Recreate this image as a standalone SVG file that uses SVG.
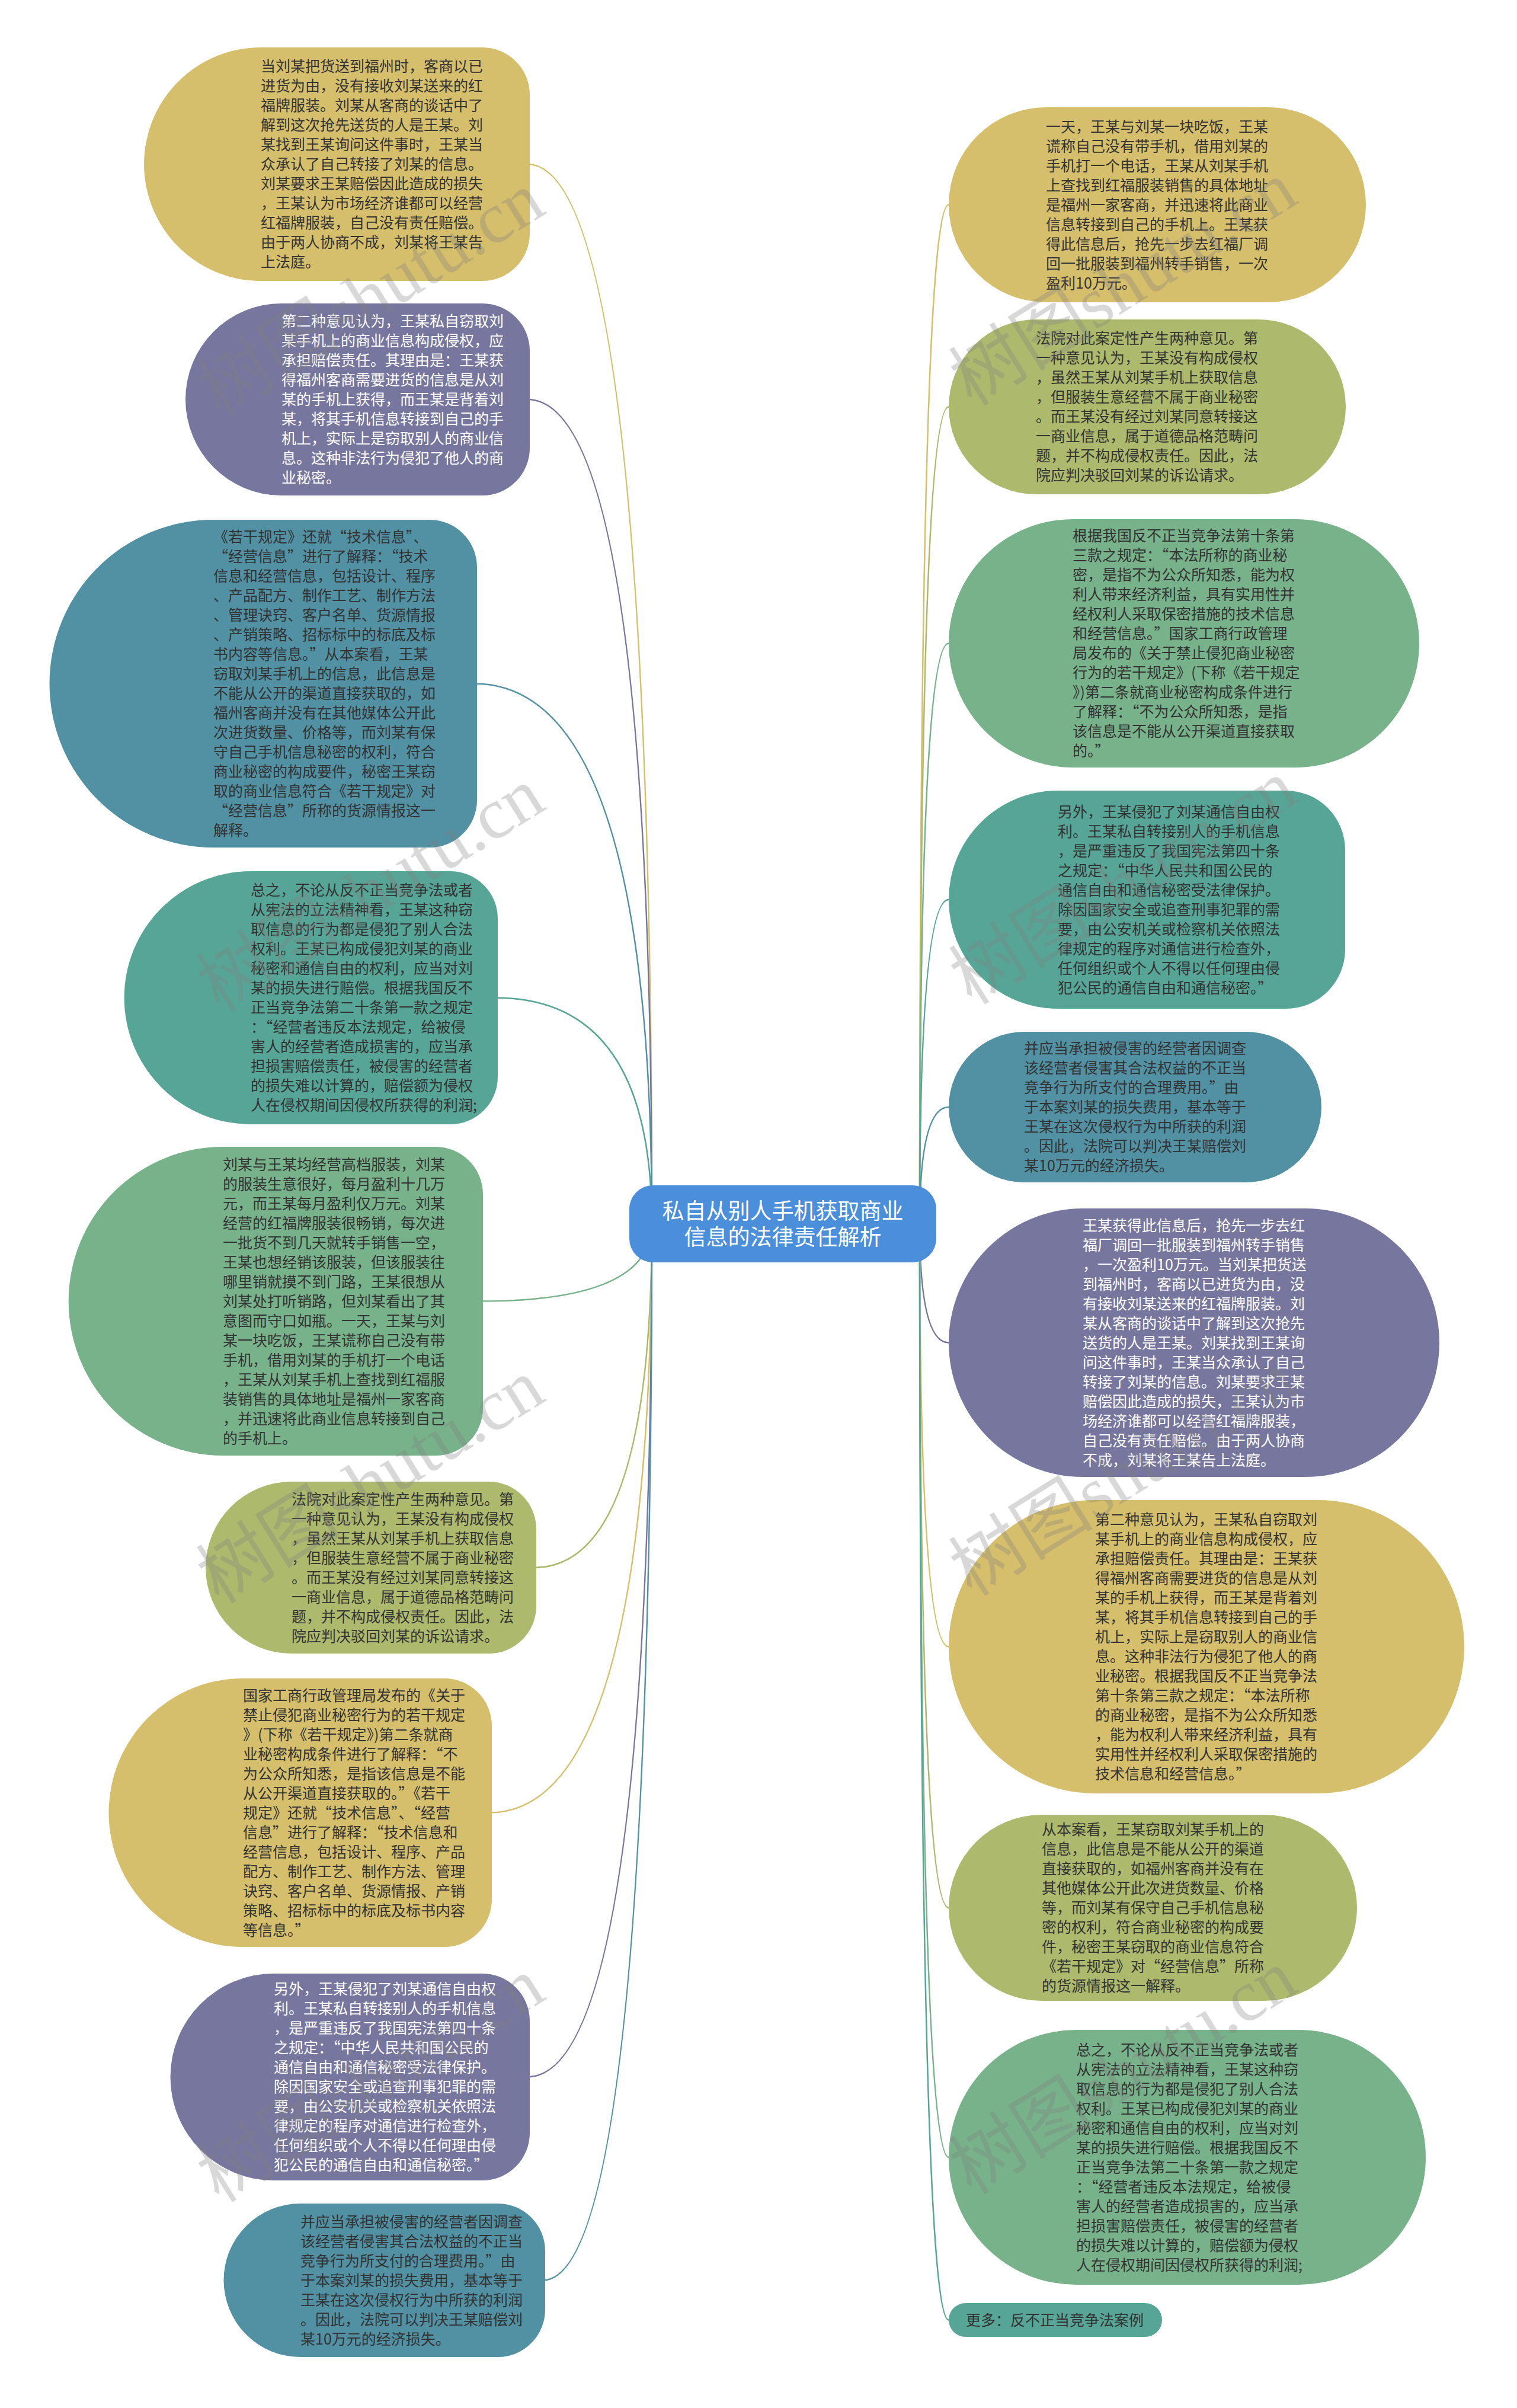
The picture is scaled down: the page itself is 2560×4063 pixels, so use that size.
<svg xmlns="http://www.w3.org/2000/svg" width="2560" height="4063" viewBox="0 0 2560 4063">
<style>
.t{font-family:"Noto Sans CJK SC","Liberation Sans",sans-serif;font-size:25px;fill:#333333}
.w{fill:#ffffff}
.c{fill:none;stroke-width:2.5}
.wm{font-family:"Liberation Serif","Noto Sans CJK SC",serif;font-size:122px;fill:#808080;opacity:0.3}
.root{font-family:"Noto Sans CJK SC","Liberation Sans",sans-serif;font-size:37px;fill:#ffffff}
</style>
<rect x="0" y="0" width="2560" height="4063" fill="#ffffff"/>
<g id="connectors">
<path class="c" stroke="#D5BF6C" d="M1100,2065 Q1100,277 890,277"/>
<path class="c" stroke="#76769E" d="M1100,2065 Q1100,674 890,674"/>
<path class="c" stroke="#5191A3" d="M1100,2065 Q1100,1153.5 800,1153.5"/>
<path class="c" stroke="#57A597" d="M1100,2065 Q1100,1683.5 836,1683.5"/>
<path class="c" stroke="#78B28B" d="M1100,2065 Q1100,2195.5 811,2195.5"/>
<path class="c" stroke="#ADB96D" d="M1100,2065 Q1100,2645 901,2645"/>
<path class="c" stroke="#D5BF6C" d="M1100,2065 Q1100,3058.5 826,3058.5"/>
<path class="c" stroke="#76769E" d="M1100,2065 Q1100,3504.5 890,3504.5"/>
<path class="c" stroke="#5191A3" d="M1100,2065 Q1100,3847.5 916,3847.5"/>
<path class="c" stroke="#D5BF6C" d="M1552,2065 Q1552,345.5 1601,345.5"/>
<path class="c" stroke="#ADB96D" d="M1552,2065 Q1552,686.5 1601,686.5"/>
<path class="c" stroke="#78B28B" d="M1552,2065 Q1552,1085.5 1601,1085.5"/>
<path class="c" stroke="#57A597" d="M1552,2065 Q1552,1518 1601,1518"/>
<path class="c" stroke="#5191A3" d="M1552,2065 Q1552,1868 1601,1868"/>
<path class="c" stroke="#76769E" d="M1552,2065 Q1552,2265.5 1601,2265.5"/>
<path class="c" stroke="#D5BF6C" d="M1552,2065 Q1552,2778.5 1601,2778.5"/>
<path class="c" stroke="#ADB96D" d="M1552,2065 Q1552,3219 1601,3219"/>
<path class="c" stroke="#78B28B" d="M1552,2065 Q1552,3640 1601,3640"/>
<path class="c" stroke="#57A597" d="M1552,2065 Q1552,3914.5 1601,3914.5"/>
</g>
<g id="root">
<rect x="1062" y="2000" width="518" height="130" rx="40" fill="#4B8FDB"/>
<text class="root" text-anchor="middle"><tspan x="1321" y="2057">私自从别人手机获取商业</tspan><tspan x="1321" y="2101">信息的法律责任解析</tspan></text>
</g>
<g id="L1">
<path d="M440,80 H814 A80,80 0 0 1 894,160 V394 A80,80 0 0 1 814,474 H440 A197,197 0 0 1 440,80 Z" fill="#D5BF6C"/>
<text class="t" x="440" y="121"><tspan x="440" dy="0">当刘某把货送到福州时，客商以已</tspan><tspan x="440" dy="33">进货为由，没有接收刘某送来的红</tspan><tspan x="440" dy="33">福牌服装。刘某从客商的谈话中了</tspan><tspan x="440" dy="33">解到这次抢先送货的人是王某。刘</tspan><tspan x="440" dy="33">某找到王某询问这件事时，王某当</tspan><tspan x="440" dy="33">众承认了自己转接了刘某的信息。</tspan><tspan x="440" dy="33">刘某要求王某赔偿因此造成的损失</tspan><tspan x="440" dy="33">，王某认为市场经济谁都可以经营</tspan><tspan x="440" dy="33">红福牌服装，自己没有责任赔偿。</tspan><tspan x="440" dy="33">由于两人协商不成，刘某将王某告</tspan><tspan x="440" dy="33">上法庭。</tspan></text>
</g>
<g id="L2">
<path d="M475,512 H814 A80,80 0 0 1 894,592 V756 A80,80 0 0 1 814,836 H475 A162,162 0 0 1 475,512 Z" fill="#76769E"/>
<text class="t w" x="475" y="551"><tspan x="475" dy="0">第二种意见认为，王某私自窃取刘</tspan><tspan x="475" dy="33">某手机上的商业信息构成侵权，应</tspan><tspan x="475" dy="33">承担赔偿责任。其理由是：王某获</tspan><tspan x="475" dy="33">得福州客商需要进货的信息是从刘</tspan><tspan x="475" dy="33">某的手机上获得，而王某是背着刘</tspan><tspan x="475" dy="33">某，将其手机信息转接到自己的手</tspan><tspan x="475" dy="33">机上，实际上是窃取别人的商业信</tspan><tspan x="475" dy="33">息。这种非法行为侵犯了他人的商</tspan><tspan x="475" dy="33">业秘密。</tspan></text>
</g>
<g id="L3">
<path d="M360,877 H725 A80,80 0 0 1 805,957 V1350 A80,80 0 0 1 725,1430 H360 A276.5,276.5 0 0 1 360,877 Z" fill="#5191A3"/>
<text class="t" x="360" y="915"><tspan x="360" dy="0">《若干规定》还就“技术信息”、</tspan><tspan x="360" dy="33">“经营信息”进行了解释：“技术</tspan><tspan x="360" dy="33">信息和经营信息，包括设计、程序</tspan><tspan x="360" dy="33">、产品配方、制作工艺、制作方法</tspan><tspan x="360" dy="33">、管理诀窍、客户名单、货源情报</tspan><tspan x="360" dy="33">、产销策略、招标标中的标底及标</tspan><tspan x="360" dy="33">书内容等信息。”从本案看，王某</tspan><tspan x="360" dy="33">窃取刘某手机上的信息，此信息是</tspan><tspan x="360" dy="33">不能从公开的渠道直接获取的，如</tspan><tspan x="360" dy="33">福州客商并没有在其他媒体公开此</tspan><tspan x="360" dy="33">次进货数量、价格等，而刘某有保</tspan><tspan x="360" dy="33">守自己手机信息秘密的权利，符合</tspan><tspan x="360" dy="33">商业秘密的构成要件，秘密王某窃</tspan><tspan x="360" dy="33">取的商业信息符合《若干规定》对</tspan><tspan x="360" dy="33">“经营信息”所称的货源情报这一</tspan><tspan x="360" dy="33">解释。</tspan></text>
</g>
<g id="L4">
<path d="M423,1470 H760 A80,80 0 0 1 840,1550 V1817 A80,80 0 0 1 760,1897 H423 A213.5,213.5 0 0 1 423,1470 Z" fill="#57A597"/>
<text class="t" x="423" y="1511"><tspan x="423" dy="0">总之，不论从反不正当竞争法或者</tspan><tspan x="423" dy="33">从宪法的立法精神看，王某这种窃</tspan><tspan x="423" dy="33">取信息的行为都是侵犯了别人合法</tspan><tspan x="423" dy="33">权利。王某已构成侵犯刘某的商业</tspan><tspan x="423" dy="33">秘密和通信自由的权利，应当对刘</tspan><tspan x="423" dy="33">某的损失进行赔偿。根据我国反不</tspan><tspan x="423" dy="33">正当竞争法第二十条第一款之规定</tspan><tspan x="423" dy="33">：“经营者违反本法规定，给被侵</tspan><tspan x="423" dy="33">害人的经营者造成损害的，应当承</tspan><tspan x="423" dy="33">担损害赔偿责任，被侵害的经营者</tspan><tspan x="423" dy="33">的损失难以计算的，赔偿额为侵权</tspan><tspan x="423" dy="33">人在侵权期间因侵权所获得的利润;</tspan></text>
</g>
<g id="L5">
<path d="M376,1935 H735 A80,80 0 0 1 815,2015 V2376 A80,80 0 0 1 735,2456 H376 A260.5,260.5 0 0 1 376,1935 Z" fill="#78B28B"/>
<text class="t" x="376" y="1973.5"><tspan x="376" dy="0">刘某与王某均经营高档服装，刘某</tspan><tspan x="376" dy="33">的服装生意很好，每月盈利十几万</tspan><tspan x="376" dy="33">元，而王某每月盈利仅万元。刘某</tspan><tspan x="376" dy="33">经营的红福牌服装很畅销，每次进</tspan><tspan x="376" dy="33">一批货不到几天就转手销售一空，</tspan><tspan x="376" dy="33">王某也想经销该服装，但该服装往</tspan><tspan x="376" dy="33">哪里销就摸不到门路，王某很想从</tspan><tspan x="376" dy="33">刘某处打听销路，但刘某看出了其</tspan><tspan x="376" dy="33">意图而守口如瓶。一天，王某与刘</tspan><tspan x="376" dy="33">某一块吃饭，王某谎称自己没有带</tspan><tspan x="376" dy="33">手机，借用刘某的手机打一个电话</tspan><tspan x="376" dy="33">，王某从刘某手机上查找到红福服</tspan><tspan x="376" dy="33">装销售的具体地址是福州一家客商</tspan><tspan x="376" dy="33">，并迅速将此商业信息转接到自己</tspan><tspan x="376" dy="33">的手机上。</tspan></text>
</g>
<g id="L6">
<path d="M492,2500 H825 A80,80 0 0 1 905,2580 V2710 A80,80 0 0 1 825,2790 H492 A145,145 0 0 1 492,2500 Z" fill="#ADB96D"/>
<text class="t" x="492" y="2538.5"><tspan x="492" dy="0">法院对此案定性产生两种意见。第</tspan><tspan x="492" dy="33">一种意见认为，王某没有构成侵权</tspan><tspan x="492" dy="33">，虽然王某从刘某手机上获取信息</tspan><tspan x="492" dy="33">，但服装生意经营不属于商业秘密</tspan><tspan x="492" dy="33">。而王某没有经过刘某同意转接这</tspan><tspan x="492" dy="33">一商业信息，属于道德品格范畴问</tspan><tspan x="492" dy="33">题，并不构成侵权责任。因此，法</tspan><tspan x="492" dy="33">院应判决驳回刘某的诉讼请求。</tspan></text>
</g>
<g id="L7">
<path d="M410,2832 H750 A80,80 0 0 1 830,2912 V3205 A80,80 0 0 1 750,3285 H410 A226.5,226.5 0 0 1 410,2832 Z" fill="#D5BF6C"/>
<text class="t" x="410" y="2869.5"><tspan x="410" dy="0">国家工商行政管理局发布的《关于</tspan><tspan x="410" dy="33">禁止侵犯商业秘密行为的若干规定</tspan><tspan x="410" dy="33">》(下称《若干规定》)第二条就商</tspan><tspan x="410" dy="33">业秘密构成条件进行了解释：“不</tspan><tspan x="410" dy="33">为公众所知悉，是指该信息是不能</tspan><tspan x="410" dy="33">从公开渠道直接获取的。”《若干</tspan><tspan x="410" dy="33">规定》还就“技术信息”、“经营</tspan><tspan x="410" dy="33">信息”进行了解释：“技术信息和</tspan><tspan x="410" dy="33">经营信息，包括设计、程序、产品</tspan><tspan x="410" dy="33">配方、制作工艺、制作方法、管理</tspan><tspan x="410" dy="33">诀窍、客户名单、货源情报、产销</tspan><tspan x="410" dy="33">策略、招标标中的标底及标书内容</tspan><tspan x="410" dy="33">等信息。”</tspan></text>
</g>
<g id="L8">
<path d="M462,3330 H814 A80,80 0 0 1 894,3410 V3599 A80,80 0 0 1 814,3679 H462 A174.5,174.5 0 0 1 462,3330 Z" fill="#76769E"/>
<text class="t w" x="462" y="3365"><tspan x="462" dy="0">另外，王某侵犯了刘某通信自由权</tspan><tspan x="462" dy="33">利。王某私自转接别人的手机信息</tspan><tspan x="462" dy="33">，是严重违反了我国宪法第四十条</tspan><tspan x="462" dy="33">之规定：“中华人民共和国公民的</tspan><tspan x="462" dy="33">通信自由和通信秘密受法律保护。</tspan><tspan x="462" dy="33">除因国家安全或追查刑事犯罪的需</tspan><tspan x="462" dy="33">要，由公安机关或检察机关依照法</tspan><tspan x="462" dy="33">律规定的程序对通信进行检查外，</tspan><tspan x="462" dy="33">任何组织或个人不得以任何理由侵</tspan><tspan x="462" dy="33">犯公民的通信自由和通信秘密。”</tspan></text>
</g>
<g id="L9">
<path d="M507,3718 H840 A80,80 0 0 1 920,3798 V3897 A80,80 0 0 1 840,3977 H507 A129.5,129.5 0 0 1 507,3718 Z" fill="#5191A3"/>
<text class="t" x="507" y="3757.5"><tspan x="507" dy="0">并应当承担被侵害的经营者因调查</tspan><tspan x="507" dy="33">该经营者侵害其合法权益的不正当</tspan><tspan x="507" dy="33">竞争行为所支付的合理费用。”由</tspan><tspan x="507" dy="33">于本案刘某的损失费用，基本等于</tspan><tspan x="507" dy="33">王某在这次侵权行为中所获的利润</tspan><tspan x="507" dy="33">。因此，法院可以判决王某赔偿刘</tspan><tspan x="507" dy="33">某10万元的经济损失。</tspan></text>
</g>
<g id="R1">
<rect x="1601" y="181" width="704" height="329" rx="164.5" fill="#D5BF6C"/>
<text class="t" x="1765" y="222.5"><tspan x="1765" dy="0">一天，王某与刘某一块吃饭，王某</tspan><tspan x="1765" dy="33">谎称自己没有带手机，借用刘某的</tspan><tspan x="1765" dy="33">手机打一个电话，王某从刘某手机</tspan><tspan x="1765" dy="33">上查找到红福服装销售的具体地址</tspan><tspan x="1765" dy="33">是福州一家客商，并迅速将此商业</tspan><tspan x="1765" dy="33">信息转接到自己的手机上。王某获</tspan><tspan x="1765" dy="33">得此信息后，抢先一步去红福厂调</tspan><tspan x="1765" dy="33">回一批服装到福州转手销售，一次</tspan><tspan x="1765" dy="33">盈利10万元。</tspan></text>
</g>
<g id="R2">
<rect x="1601" y="539" width="670" height="295" rx="147.5" fill="#ADB96D"/>
<text class="t" x="1748" y="580"><tspan x="1748" dy="0">法院对此案定性产生两种意见。第</tspan><tspan x="1748" dy="33">一种意见认为，王某没有构成侵权</tspan><tspan x="1748" dy="33">，虽然王某从刘某手机上获取信息</tspan><tspan x="1748" dy="33">，但服装生意经营不属于商业秘密</tspan><tspan x="1748" dy="33">。而王某没有经过刘某同意转接这</tspan><tspan x="1748" dy="33">一商业信息，属于道德品格范畴问</tspan><tspan x="1748" dy="33">题，并不构成侵权责任。因此，法</tspan><tspan x="1748" dy="33">院应判决驳回刘某的诉讼请求。</tspan></text>
</g>
<g id="R3">
<rect x="1601" y="876" width="794" height="419" rx="209.5" fill="#78B28B"/>
<text class="t" x="1810" y="913"><tspan x="1810" dy="0">根据我国反不正当竞争法第十条第</tspan><tspan x="1810" dy="33">三款之规定：“本法所称的商业秘</tspan><tspan x="1810" dy="33">密，是指不为公众所知悉，能为权</tspan><tspan x="1810" dy="33">利人带来经济利益，具有实用性并</tspan><tspan x="1810" dy="33">经权利人采取保密措施的技术信息</tspan><tspan x="1810" dy="33">和经营信息。”国家工商行政管理</tspan><tspan x="1810" dy="33">局发布的《关于禁止侵犯商业秘密</tspan><tspan x="1810" dy="33">行为的若干规定》(下称《若干规定</tspan><tspan x="1810" dy="33">》)第二条就商业秘密构成条件进行</tspan><tspan x="1810" dy="33">了解释：“不为公众所知悉，是指</tspan><tspan x="1810" dy="33">该信息是不能从公开渠道直接获取</tspan><tspan x="1810" dy="33">的。”</tspan></text>
</g>
<g id="R4">
<path d="M1785,1334 H2170 A100,100 0 0 1 2270,1434 V1602 A100,100 0 0 1 2170,1702 H1785 A184,184 0 0 1 1785,1334 Z" fill="#57A597"/>
<text class="t" x="1785" y="1378.5"><tspan x="1785" dy="0">另外，王某侵犯了刘某通信自由权</tspan><tspan x="1785" dy="33">利。王某私自转接别人的手机信息</tspan><tspan x="1785" dy="33">，是严重违反了我国宪法第四十条</tspan><tspan x="1785" dy="33">之规定：“中华人民共和国公民的</tspan><tspan x="1785" dy="33">通信自由和通信秘密受法律保护。</tspan><tspan x="1785" dy="33">除因国家安全或追查刑事犯罪的需</tspan><tspan x="1785" dy="33">要，由公安机关或检察机关依照法</tspan><tspan x="1785" dy="33">律规定的程序对通信进行检查外，</tspan><tspan x="1785" dy="33">任何组织或个人不得以任何理由侵</tspan><tspan x="1785" dy="33">犯公民的通信自由和通信秘密。”</tspan></text>
</g>
<g id="R5">
<rect x="1601" y="1741" width="629" height="254" rx="127" fill="#5191A3"/>
<text class="t" x="1728" y="1778"><tspan x="1728" dy="0">并应当承担被侵害的经营者因调查</tspan><tspan x="1728" dy="33">该经营者侵害其合法权益的不正当</tspan><tspan x="1728" dy="33">竞争行为所支付的合理费用。”由</tspan><tspan x="1728" dy="33">于本案刘某的损失费用，基本等于</tspan><tspan x="1728" dy="33">王某在这次侵权行为中所获的利润</tspan><tspan x="1728" dy="33">。因此，法院可以判决王某赔偿刘</tspan><tspan x="1728" dy="33">某10万元的经济损失。</tspan></text>
</g>
<g id="R6">
<rect x="1601" y="2039" width="828" height="453" rx="226.5" fill="#76769E"/>
<text class="t w" x="1827" y="2076.5"><tspan x="1827" dy="0">王某获得此信息后，抢先一步去红</tspan><tspan x="1827" dy="33">福厂调回一批服装到福州转手销售</tspan><tspan x="1827" dy="33">，一次盈利10万元。当刘某把货送</tspan><tspan x="1827" dy="33">到福州时，客商以已进货为由，没</tspan><tspan x="1827" dy="33">有接收刘某送来的红福牌服装。刘</tspan><tspan x="1827" dy="33">某从客商的谈话中了解到这次抢先</tspan><tspan x="1827" dy="33">送货的人是王某。刘某找到王某询</tspan><tspan x="1827" dy="33">问这件事时，王某当众承认了自己</tspan><tspan x="1827" dy="33">转接了刘某的信息。刘某要求王某</tspan><tspan x="1827" dy="33">赔偿因此造成的损失，王某认为市</tspan><tspan x="1827" dy="33">场经济谁都可以经营红福牌服装，</tspan><tspan x="1827" dy="33">自己没有责任赔偿。由于两人协商</tspan><tspan x="1827" dy="33">不成，刘某将王某告上法庭。</tspan></text>
</g>
<g id="R7">
<rect x="1601" y="2531" width="870" height="495" rx="247.5" fill="#D5BF6C"/>
<text class="t" x="1848" y="2573"><tspan x="1848" dy="0">第二种意见认为，王某私自窃取刘</tspan><tspan x="1848" dy="33">某手机上的商业信息构成侵权，应</tspan><tspan x="1848" dy="33">承担赔偿责任。其理由是：王某获</tspan><tspan x="1848" dy="33">得福州客商需要进货的信息是从刘</tspan><tspan x="1848" dy="33">某的手机上获得，而王某是背着刘</tspan><tspan x="1848" dy="33">某，将其手机信息转接到自己的手</tspan><tspan x="1848" dy="33">机上，实际上是窃取别人的商业信</tspan><tspan x="1848" dy="33">息。这种非法行为侵犯了他人的商</tspan><tspan x="1848" dy="33">业秘密。根据我国反不正当竞争法</tspan><tspan x="1848" dy="33">第十条第三款之规定：“本法所称</tspan><tspan x="1848" dy="33">的商业秘密，是指不为公众所知悉</tspan><tspan x="1848" dy="33">，能为权利人带来经济利益，具有</tspan><tspan x="1848" dy="33">实用性并经权利人采取保密措施的</tspan><tspan x="1848" dy="33">技术信息和经营信息。”</tspan></text>
</g>
<g id="R8">
<rect x="1601" y="3062" width="689" height="314" rx="157" fill="#ADB96D"/>
<text class="t" x="1758" y="3096"><tspan x="1758" dy="0">从本案看，王某窃取刘某手机上的</tspan><tspan x="1758" dy="33">信息，此信息是不能从公开的渠道</tspan><tspan x="1758" dy="33">直接获取的，如福州客商并没有在</tspan><tspan x="1758" dy="33">其他媒体公开此次进货数量、价格</tspan><tspan x="1758" dy="33">等，而刘某有保守自己手机信息秘</tspan><tspan x="1758" dy="33">密的权利，符合商业秘密的构成要</tspan><tspan x="1758" dy="33">件，秘密王某窃取的商业信息符合</tspan><tspan x="1758" dy="33">《若干规定》对“经营信息”所称</tspan><tspan x="1758" dy="33">的货源情报这一解释。</tspan></text>
</g>
<g id="R9">
<rect x="1601" y="3425" width="805" height="430" rx="215" fill="#78B28B"/>
<text class="t" x="1816" y="3467.5"><tspan x="1816" dy="0">总之，不论从反不正当竞争法或者</tspan><tspan x="1816" dy="33">从宪法的立法精神看，王某这种窃</tspan><tspan x="1816" dy="33">取信息的行为都是侵犯了别人合法</tspan><tspan x="1816" dy="33">权利。王某已构成侵犯刘某的商业</tspan><tspan x="1816" dy="33">秘密和通信自由的权利，应当对刘</tspan><tspan x="1816" dy="33">某的损失进行赔偿。根据我国反不</tspan><tspan x="1816" dy="33">正当竞争法第二十条第一款之规定</tspan><tspan x="1816" dy="33">：“经营者违反本法规定，给被侵</tspan><tspan x="1816" dy="33">害人的经营者造成损害的，应当承</tspan><tspan x="1816" dy="33">担损害赔偿责任，被侵害的经营者</tspan><tspan x="1816" dy="33">的损失难以计算的，赔偿额为侵权</tspan><tspan x="1816" dy="33">人在侵权期间因侵权所获得的利润;</tspan></text>
</g>
<g id="R10">
<rect x="1601" y="3886" width="360" height="57" rx="28.5" fill="#57A597"/>
<text class="t" x="1630" y="3923.5">更多：反不正当竞争法案例</text>
</g>
<g id="watermarks">
<text class="wm" transform="translate(370,705) rotate(-32)">树图shutu.cn</text>
<text class="wm" transform="translate(1640,687) rotate(-32)">树图shutu.cn</text>
<text class="wm" transform="translate(370,1710) rotate(-32)">树图shutu.cn</text>
<text class="wm" transform="translate(1640,1697) rotate(-32)">树图shutu.cn</text>
<text class="wm" transform="translate(370,2708) rotate(-32)">树图shutu.cn</text>
<text class="wm" transform="translate(1640,2695) rotate(-32)">树图shutu.cn</text>
<text class="wm" transform="translate(370,3718) rotate(-32)">树图shutu.cn</text>
<text class="wm" transform="translate(1640,3705) rotate(-32)">树图shutu.cn</text>
</g>
</svg>
